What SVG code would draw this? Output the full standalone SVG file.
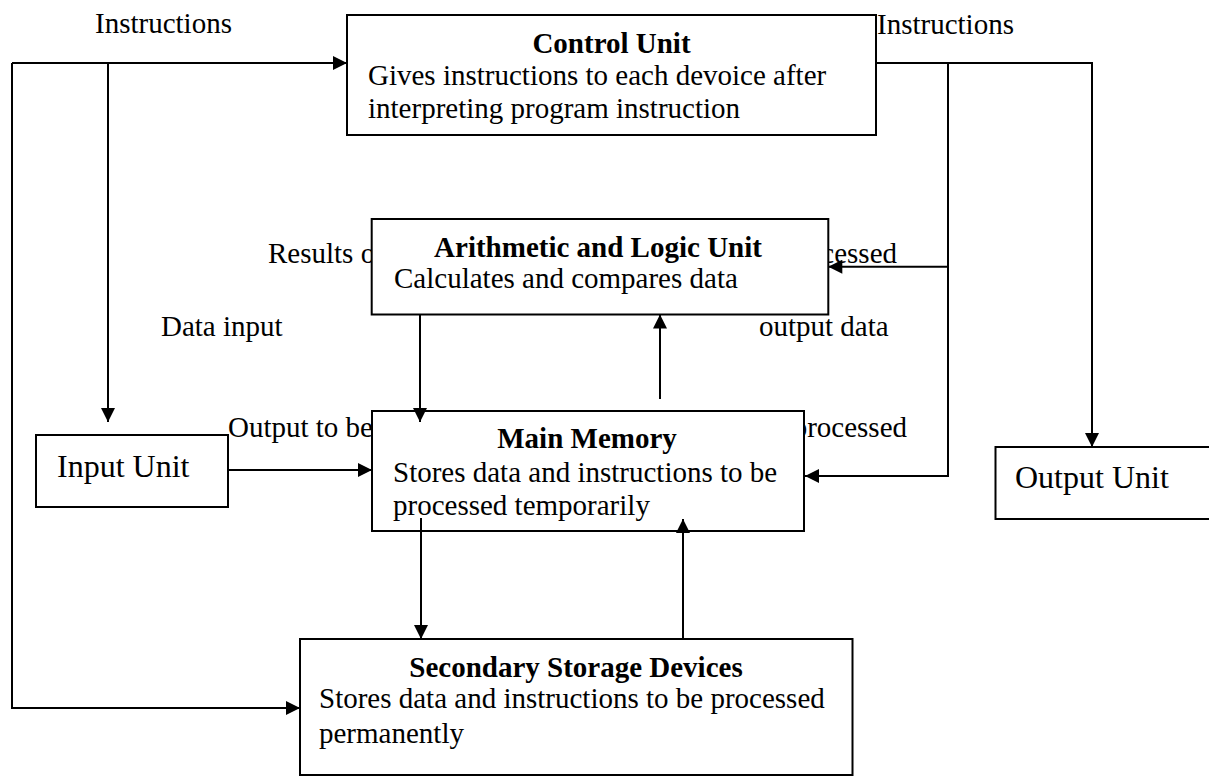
<svg xmlns="http://www.w3.org/2000/svg" width="1209" height="776" viewBox="0 0 1209 776">
<style>
  text { font-family: "Liberation Serif", "Times New Roman", serif; font-size: 29px; fill: #000; }
  .title { font-weight: bold; text-anchor: middle; }
  .big { font-size: 32px; }
  .end { text-anchor: end; }
  .box { fill: #fff; stroke: #000; stroke-width: 2; }
  .wire { fill: none; stroke: #000; stroke-width: 2; }
</style>
<defs>
  <marker id="arrow" viewBox="0 0 10 10" refX="10" refY="5" markerUnits="userSpaceOnUse" markerWidth="15" markerHeight="14" orient="auto">
    <path d="M0,0 L10,5 L0,10 z" fill="#000"/>
  </marker>
</defs>
<rect width="1209" height="776" fill="#fff"/>

<g id="labels">
  <text x="95" y="33">Instructions</text>
  <text x="877" y="34">Instructions</text>
  <text x="268" y="263">Results of</text>
  <text class="end" x="897" y="263">processed</text>
  <text x="161" y="336">Data input</text>
  <text x="759" y="336">output data</text>
  <text x="228" y="437">Output to be</text>
  <text class="end" x="907" y="437">processed</text>
</g>

<g id="control-unit">
  <rect class="box" x="347" y="15" width="529" height="120"/>
  <text class="title" x="611.5" y="53">Control Unit</text>
  <text x="368" y="85">Gives instructions to each devoice after</text>
  <text x="368" y="118">interpreting program instruction</text>
</g>

<g id="alu">
  <rect class="box" x="371.7" y="219" width="456.6" height="95.5"/>
  <text class="title" x="598" y="257">Arithmetic and Logic Unit</text>
  <text x="394" y="288">Calculates and compares data</text>
</g>

<g id="main-memory">
  <rect class="box" x="372" y="411" width="432" height="120"/>
  <text class="title" x="587" y="448">Main Memory</text>
  <text x="393" y="482">Stores data and instructions to be</text>
  <text x="393" y="515">processed temporarily</text>
</g>

<g id="input-unit">
  <rect class="box" x="36" y="435" width="192" height="72"/>
  <text class="big" x="57" y="477">Input Unit</text>
</g>

<g id="output-unit">
  <rect class="box" x="995.5" y="447" width="230" height="72"/>
  <text class="big" x="1015" y="488">Output Unit</text>
</g>

<g id="secondary-storage">
  <rect class="box" x="300" y="639" width="552.5" height="136"/>
  <text class="title" x="576" y="677">Secondary Storage Devices</text>
  <text x="319" y="708">Stores data and instructions to be processed</text>
  <text x="319" y="743">permanently</text>
</g>

<g id="connectors">
  <path class="wire" d="M12,63 H347" marker-end="url(#arrow)"/>
  <path class="wire" d="M12,63 V708 H300" marker-end="url(#arrow)"/>
  <path class="wire" d="M108,63 V422" marker-end="url(#arrow)"/>
  <path class="wire" d="M876,63 H1092 V447" marker-end="url(#arrow)"/>
  <path class="wire" d="M948,63 V476 H805" marker-end="url(#arrow)"/>
  <path class="wire" d="M948,266.7 H828.3" marker-end="url(#arrow)"/>
  <path class="wire" d="M420,314.5 V422" marker-end="url(#arrow)"/>
  <path class="wire" d="M660,399 V314.5" marker-end="url(#arrow)"/>
  <path class="wire" d="M228,470 H372" marker-end="url(#arrow)"/>
  <path class="wire" d="M421,518 V639" marker-end="url(#arrow)"/>
  <path class="wire" d="M683,639 V519" marker-end="url(#arrow)"/>
</g>
</svg>
